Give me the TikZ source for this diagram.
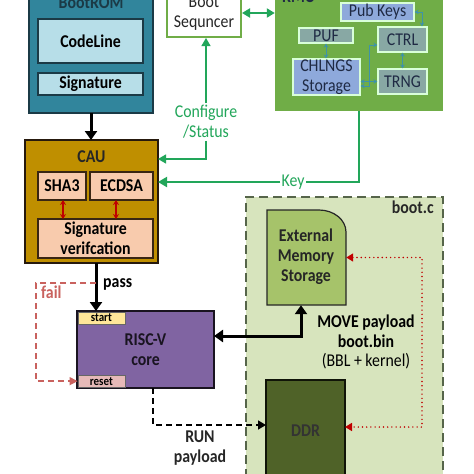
\documentclass[tikz,border=0pt]{standalone}
\usepackage{fontspec}
\setmainfont{Carlito}[FakeStretch=0.88]
\usetikzlibrary{arrows.meta,calc}
\definecolor{teal1}{HTML}{31859C}
\definecolor{tealbd}{HTML}{1B3A46}
\definecolor{lblue}{HTML}{B7DEE8}
\definecolor{gold1}{HTML}{BF8F00}
\definecolor{peach}{HTML}{F8CBAD}
\definecolor{purp}{HTML}{8064A2}
\definecolor{startc}{HTML}{FFE699}
\definecolor{resetc}{HTML}{E6B9B8}
\definecolor{grn}{HTML}{70AD47}
\definecolor{conn}{HTML}{22A65A}
\definecolor{pblue}{HTML}{8EA9DB}
\definecolor{gteal}{HTML}{88A8A4}
\definecolor{sarrow}{HTML}{3E93A8}
\definecolor{bootbg}{HTML}{D7E4BD}
\definecolor{bootbd}{HTML}{56654A}
\definecolor{extc}{HTML}{A6C36A}
\definecolor{ddrc}{HTML}{4F6228}
\definecolor{dred}{HTML}{C00000}
\definecolor{failc}{HTML}{C9625E}
\definecolor{rmutext}{HTML}{1F2A44}
\tikzset{
  box/.style={draw=#1, line width=1.2pt, inner sep=0pt, outer sep=0pt},
  lbl/.style={font=\bfseries\fontsize{18}{20}\selectfont, align=center, inner sep=0pt},
  rlbl/.style={font=\fontsize{18}{20}\selectfont, align=center, inner sep=0pt},
  tiny/.style={font=\bfseries\fontsize{12.5}{13}\selectfont, inner sep=0pt},
  blk/.style={line width=3pt, -{Triangle[length=9pt,width=12pt]}},
  blk2/.style={line width=3pt, {Triangle[length=9pt,width=12pt]}-{Triangle[length=9pt,width=12pt]}},
  gconn/.style={draw=conn, line width=1.2pt, -{Triangle[length=8pt,width=9pt]}},
  gconnk/.style={draw=conn, line width=2pt, -{Triangle[length=9pt,width=10pt]}},
  sarr/.style={draw=sarrow, line width=1pt, {Stealth[length=4pt,width=4.5pt]}-{Stealth[length=4pt,width=4.5pt]}},
  rarr/.style={draw=dred, line width=1.4pt, {Stealth[length=5pt,width=6pt]}-{Stealth[length=5pt,width=6pt]}},
}
\begin{document}
\begin{tikzpicture}[x=1pt,y=-1pt]
\useasboundingbox (0,0) rectangle (474,474);
\clip (0,0) rectangle (474,474);
\fill[white] (0,0) rectangle (474,474);

% ---------- BootROM ----------
\node[box=tealbd, fill=teal1, minimum width=124pt, minimum height=125pt] (bootrom) at (91,50.5) {};
\node[lbl, text=tealbd] (bootromt) at (91,3) {BootROM};
\node[box=tealbd, fill=lblue, minimum width=105pt, minimum height=44pt, lbl] (codeline) at (90.5,41) {CodeLine};
\node[box=tealbd, fill=lblue, minimum width=105pt, minimum height=22pt, lbl] (sig) at (90.5,84) {Signature};

% ---------- CAU ----------
\node[box=black!80!brown, fill=gold1, minimum width=133pt, minimum height=123pt] (cau) at (91.5,201.5) {};
\node[lbl, text=black!85] (caut) at (91.5,157) {CAU};
\node[box=black!70!brown, fill=peach, minimum width=48pt, minimum height=28pt, lbl] (sha3) at (62,186) {SHA3};
\node[box=black!70!brown, fill=peach, minimum width=63pt, minimum height=28pt, lbl] (ecdsa) at (121.5,186) {ECDSA};
\node[box=black!70!brown, fill=peach, minimum width=115pt, minimum height=39pt, lbl] (sigver) at (95.5,238.5) {Signature\\verifcation};
\draw[rarr] ([xshift=1pt]sha3.south) -- ([xshift=1pt]sha3.south |- sigver.north);
\draw[rarr] ([xshift=-5.5pt]ecdsa.south) -- ([xshift=-5.5pt]ecdsa.south |- sigver.north);

\draw[blk] (bootrom.south) -- (bootrom.south |- cau.north);

% ---------- RISC-V ----------
\node[box=black!80!purp, fill=purp, minimum width=137pt, minimum height=77pt] (risc) at (145.5,349.5) {};
\node[lbl, text=black!80!purp] (risct) at (145.5,350) {RISC-V\\core};
\node[draw=black!60, line width=0.5pt, fill=startc, minimum width=47pt, minimum height=12pt, tiny, anchor=north west] (start) at (77.6,311.6) {start};
\node[draw=black!60, line width=0.5pt, fill=resetc, minimum width=47pt, minimum height=12pt, tiny, anchor=south west] (reset) at (77.6,387.4) {reset};

\draw[blk] ([xshift=4.5pt]cau.south) -- ([xshift=4.5pt]cau.south |- risc.north);
\node[lbl, anchor=west] (pass) at (103,284) {pass};
\coordinate (failc) at (36,283);
\draw[draw=failc, line width=1.4pt, dash pattern=on 6pt off 4pt, -{Triangle[length=8pt,width=8pt]}] (96,283) -- (failc) |- (reset.west);
\node[lbl, text=failc, anchor=west] (fail) at (41,292) {fail};

% ---------- Boot Sequencer ----------
\node[draw=grn, line width=2pt, fill=white, minimum width=74pt, minimum height=57pt, inner sep=0pt] (bootseq) at (204,8.5) {};
\node[rlbl, text=black!85] (bootseqt) at (204,13) {Boot\\Sequncer};

% ---------- RMU ----------
\node[fill=grn, minimum width=168pt, minimum height=131pt, inner sep=0pt] (rmu) at (359,45.5) {};
\node[lbl, text=rmutext, anchor=west] (rmut) at (282,-3) {RMU};
\tikzset{rbox/.style={draw=white!85!green, line width=1.2pt, inner sep=0pt, rlbl, text=rmutext}}
\node[rbox, fill=pblue, minimum width=73pt, minimum height=18pt] (pub) at (377.5,12) {Pub Keys};
\node[rbox, fill=gteal, minimum width=54pt, minimum height=15pt] (puf) at (326,35.5) {PUF};
\node[rbox, fill=gteal, minimum width=49pt, minimum height=25pt] (ctrl) at (402.5,39.5) {CTRL};
\node[rbox, fill=pblue, minimum width=67pt, minimum height=36pt] (chl) at (326.5,77) {CHLNGS\\Storage};
\node[rbox, fill=gteal, minimum width=49pt, minimum height=25pt] (trng) at (402.5,81.5) {TRNG};
\draw[sarr] (puf.south) -- (puf.south |- chl.north);
\draw[sarr] (trng.west -| chl.east) -- (trng.west);
\draw[sarr] (ctrl.south) -- (trng.north);
\draw[sarr] ([yshift=-9pt]chl.east) -- ++(9,0) |- ([yshift=-5.5pt]ctrl.west);
\draw[sarr] (pub.east) -| ([xshift=19.5pt]ctrl.north);

\draw[draw=conn, line width=2pt, {Triangle[length=8pt,width=9pt]}-{Triangle[length=8pt,width=9pt]}] ([yshift=-4.5pt]bootseq.east) -- ([yshift=-4.5pt]bootseq.east -| rmu.west);

% ---------- Configure / Key ----------
\node[rlbl, text=conn] (cfg) at (206,122) {Configure\\/Status};
\draw[gconn] ([yshift=2pt]cfg.north) -- (cfg.north |- bootseq.south);
\draw[draw=conn, line width=1.2pt, -{Triangle[length=8pt,width=9pt]}] ([yshift=-2pt]cfg.south) |- ([yshift=-19pt]cau.north east);
\node[rlbl, text=conn, fill=white, inner xsep=1pt] (key) at (293,182) {Key};
\draw[draw=conn, line width=2pt] (rmu.south) |- (key.east);
\draw[gconnk] (key.west) -- (key.west -| cau.east);

% ---------- boot.c ----------
\node[draw=bootbd, fill=bootbg, line width=2.6pt, dash pattern=on 9pt off 5pt, minimum width=197pt, minimum height=300pt, inner sep=0pt] (bootc) at (344.5,347) {};
\node[lbl, text=black!85, anchor=east] (bootct) at (434,207) {boot.c};
\draw[draw=black!85, line width=1.2pt, fill=extc] (267,305) -- (267,210) -- (319,210) arc[start angle=-90, end angle=0, x radius=27, y radius=22] -- (346,305) -- cycle;
\node[inner sep=0pt, minimum width=79pt, minimum height=95pt] (extmem) at (306.5,257.5) {};
\node[lbl, text=black!85] (extt) at (306,257) {External\\Memory\\Storage};
\node[box=black!80!ddrc, fill=ddrc, minimum width=79pt, minimum height=110pt] (ddr) at (305.5,435) {};
\node[lbl, text=black!80] (ddrt) at (305.5,431) {DDR};

\draw[blk2] ([yshift=13.5pt]risc.east) -| ([xshift=-5.5pt]extmem.south);
\node[align=center, inner sep=0pt, font=\fontsize{18}{19.5}\selectfont] (move) at (366,342) {\textbf{MOVE payload}\\\textbf{boot.bin}\\(BBL + kernel)};
\draw[draw=dred, line width=1.6pt, line cap=round, dash pattern=on 0pt off 4.2pt, {Triangle[length=7pt,width=8pt]}-{Triangle[length=7pt,width=8pt]}] (extmem.east) -- (422,257.5) |- ([yshift=8pt]ddr.east);

\draw[line width=1.6pt, dash pattern=on 6pt off 4pt, -{Triangle[length=8pt,width=9pt]}] ([xshift=7.5pt]risc.south) |- ([yshift=10pt]ddr.west);
\node[lbl, text=black!85] (run) at (200,448) {RUN\\payload};
\end{tikzpicture}
\end{document}
